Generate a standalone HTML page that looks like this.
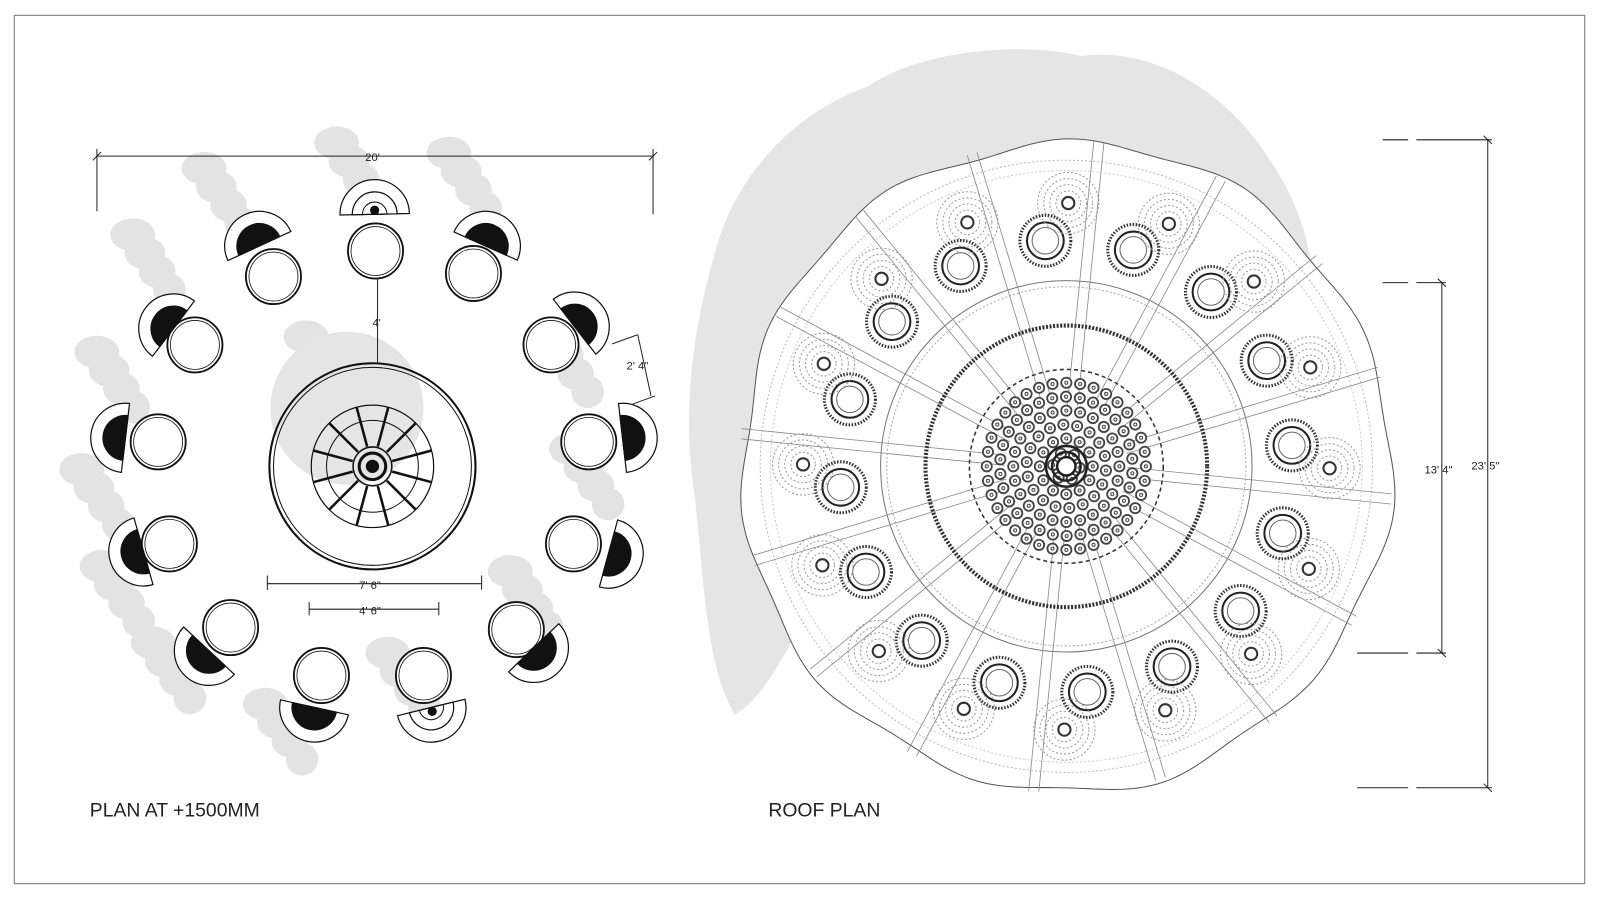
<!DOCTYPE html>
<html><head><meta charset="utf-8"><style>
html,body{margin:0;padding:0;background:#fff;width:1600px;height:899px;overflow:hidden}
svg{display:block}
text{font-family:"Liberation Sans",sans-serif}
</style></head><body>
<svg id="s" width="1600" height="899" viewBox="0 0 1568 881" xmlns="http://www.w3.org/2000/svg">
<rect x="14" y="15" width="1539" height="851" fill="#fff" stroke="#777" stroke-width="1"/>
<g id="bg"></g>
<path d="M700,250 C720,170 780,110 850,85 C900,50 1000,40 1060,55 C1130,45 1200,90 1240,150 C1275,200 1290,250 1285,300 L1230,300 C1180,240 1120,200 1045,195 C930,200 850,280 820,380 C800,460 800,540 780,620 C760,660 740,690 720,700 C690,650 690,560 680,480 C668,400 680,320 700,250 Z" fill="#e5e5e5"/>
<g id="left" fill="none" stroke="#111"></g>
<g id="right" fill="none"></g>
<g stroke="#222" stroke-width="1" fill="none">
<line x1="95" y1="153" x2="640" y2="153"/><line x1="95" y1="146" x2="95" y2="207"/><line x1="640" y1="146" x2="640" y2="210"/>
<line x1="91" y1="157" x2="99" y2="149"/><line x1="636" y1="157" x2="644" y2="149"/>
<line x1="370" y1="272" x2="370" y2="355"/>
<line x1="262" y1="572" x2="472" y2="572"/><line x1="262" y1="564" x2="262" y2="578"/><line x1="472" y1="564" x2="472" y2="578"/>
<line x1="303" y1="597" x2="430" y2="597"/><line x1="303" y1="590" x2="303" y2="603"/><line x1="430" y1="590" x2="430" y2="603"/>
<line x1="600" y1="337" x2="625" y2="328"/><line x1="625" y1="328" x2="638" y2="388"/><line x1="620" y1="396" x2="642" y2="388"/>
<line x1="1458" y1="137" x2="1458" y2="772"/><line x1="1413" y1="277" x2="1413" y2="640"/>
<line x1="1355" y1="137" x2="1380" y2="137"/><line x1="1388" y1="137" x2="1462" y2="137"/>
<line x1="1355" y1="277" x2="1380" y2="277"/><line x1="1388" y1="277" x2="1417" y2="277"/>
<line x1="1330" y1="640" x2="1380" y2="640"/><line x1="1388" y1="640" x2="1417" y2="640"/>
<line x1="1330" y1="772" x2="1380" y2="772"/><line x1="1388" y1="772" x2="1462" y2="772"/>
<line x1="1454" y1="133" x2="1462" y2="141"/><line x1="1454" y1="768" x2="1462" y2="776"/>
<line x1="1409" y1="273" x2="1417" y2="281"/><line x1="1409" y1="636" x2="1417" y2="644"/>
</g>
<g font-size="11" fill="#222">
<text x="358" y="158">20'</text><text x="365" y="320">4'</text>
<text x="352" y="577">7' 6"</text><text x="352" y="602">4' 6"</text>
<text x="614" y="362">2' 4"</text>
<text x="1396" y="464">13' 4"</text><text x="1442" y="460">23' 5"</text>
</g>
<g font-size="19" fill="#222">
<text x="88" y="800">PLAN AT +1500MM</text><text x="753" y="800">ROOF PLAN</text>
</g>
</svg>
<script>
const NS="http://www.w3.org/2000/svg";
function el(p,t,a){const e=document.createElementNS(NS,t);for(const k in a)e.setAttribute(k,a[k]);p.appendChild(e);return e;}
const bg=document.getElementById('bg'),L=document.getElementById('left'),R=document.getElementById('right');
const sh=[[200,165],[330,140],[440,150],[130,230],[95,345],[80,460],[100,555],[150,630],[260,690],[380,640],[500,560],[560,440],[540,330],[300,330]];
sh.forEach(([x,y],i)=>{for(let k=0;k<4;k++)el(bg,'ellipse',{cx:x+k*12,cy:y+k*18,rx:22-k*2,ry:16,fill:'#e3e3e3'});});
el(bg,'circle',{cx:340,cy:400,r:75,fill:'#e5e5e5'});
const cx=365,cy=457;
el(L,'circle',{cx,cy,r:101,'stroke-width':2});el(L,'circle',{cx,cy,r:97,'stroke-width':1});
el(L,'circle',{cx,cy,r:60,'stroke-width':1.2});el(L,'circle',{cx,cy,r:45,'stroke-width':1});
for(let i=0;i<12;i++){const a=i*Math.PI/6+Math.PI/12;el(L,'line',{x1:cx+20*Math.cos(a),y1:cy+20*Math.sin(a),x2:cx+60*Math.cos(a),y2:cy+60*Math.sin(a),'stroke-width':2.5});}
el(L,'circle',{cx,cy,r:19,'stroke-width':1.5});el(L,'circle',{cx,cy,r:13,'stroke-width':3});el(L,'circle',{cx,cy,r:6,fill:'#111'});
const chairs=[[368,246],[268,271],[464,268],[191,338],[540,338],[155,433],[577,433],[166,533],[562,533],[226,615],[506,617],[315,662],[415,662]];
const seats=[[367,200],[250,232],[480,232],[162,316],[571,314],[113,428],[620,428],[131,543],[606,545],[198,645],[530,642],[306,703],[425,703]];
chairs.forEach(([x,y])=>{el(L,'circle',{cx:x,cy:y,r:27,fill:'#fff','stroke-width':1.8});el(L,'circle',{cx:x,cy:y,r:24,'stroke-width':0.8});});
seats.forEach(([x,y],i)=>{const [chx,chy]=chairs[i];const a=Math.atan2(y-chy,x-chx);const ca=Math.cos(a),sa=Math.sin(a);
 const bx=x-ca*10,by=y-sa*10;const px=-sa,py=ca;
 const r=34;
 el(L,'path',{d:`M${bx+px*r},${by+py*r} A${r},${r} 0 0 0 ${bx-px*r},${by-py*r} Z`,fill:'#fff','stroke-width':1.2});
 const r2=22;el(L,'path',{d:`M${bx+px*r2},${by+py*r2} A${r2},${r2} 0 0 0 ${bx-px*r2},${by-py*r2} Z`,fill:i==0||i==12?'#fff':'#111','stroke-width':1.2});
 if(i==0||i==12){el(L,'path',{d:`M${bx+px*12},${by+py*12} A12,12 0 0 0 ${bx-px*12},${by-py*12} Z`,'stroke-width':1});el(L,'circle',{cx:bx+ca*4,cy:by+sa*4,r:4,fill:'#111'});}
});
const X=1045,Y=457;
let pts=[];for(let i=0;i<=360;i++){const a=i/360*2*Math.PI;const r=318+4*Math.sin(a*11)+2*Math.sin(a*5+1);pts.push((X+r*Math.cos(a)).toFixed(1)+','+(Y+r*Math.sin(a)).toFixed(1));}
el(R,'polygon',{points:pts.join(' '),fill:'#fff',stroke:'#555','stroke-width':1});
el(R,'circle',{cx:X,cy:Y,r:300,stroke:'#bbb','stroke-dasharray':'2 2','stroke-width':1});
el(R,'circle',{cx:X,cy:Y,r:290,stroke:'#ccc','stroke-dasharray':'2 2','stroke-width':1});
el(R,'circle',{cx:X,cy:Y,r:182,stroke:'#777','stroke-width':1});
el(R,'circle',{cx:X,cy:Y,r:176,stroke:'#aaa','stroke-dasharray':'2 2','stroke-width':1});
for(let i=0;i<16;i++){const a=i*Math.PI/8+0.1;const c=Math.cos(a),s=Math.sin(a);const pX=-s*5,pY=c*5;
 for(const o of [-1,1])el(R,'line',{x1:X+c*60+pX*o,y1:Y+s*60+pY*o,x2:X+c*320+pX*o,y2:Y+s*320+pY*o,stroke:'#888','stroke-width':0.8});}
el(R,'circle',{cx:X,cy:Y,r:138,stroke:'#333','stroke-width':4,'stroke-dasharray':'2 1.5'});
el(R,'circle',{cx:X,cy:Y,r:95,stroke:'#333','stroke-width':1.5,'stroke-dasharray':'4 3'});
[[13,6],[26,12],[39,18],[52,24],[65,30],[78,36]].forEach(([r,n])=>{for(let i=0;i<n;i++){const a=i*2*Math.PI/n+(r%2)*0.1;el(R,'circle',{cx:X+r*Math.cos(a),cy:Y+r*Math.sin(a)*1.05,r:5,stroke:'#444','stroke-width':1.8,fill:'#fff'});el(R,'circle',{cx:X+r*Math.cos(a),cy:Y+r*Math.sin(a)*1.05,r:1.5,stroke:'#444','stroke-width':1});}});
for(const r of [20,14,9]) el(R,'circle',{cx:X,cy:Y,r,stroke:'#222','stroke-width':2.5,fill:r==9?'#fff':'none'});
for(let i=0;i<16;i++){const a=i*Math.PI/8+0.3;const x=X+222*Math.cos(a),y=Y+222*Math.sin(a);
 el(R,'circle',{cx:x,cy:y,r:25,stroke:'#333','stroke-width':3,'stroke-dasharray':'1.5 1.5',fill:'#fff'});
 el(R,'circle',{cx:x,cy:y,r:18,stroke:'#222','stroke-width':2});el(R,'circle',{cx:x,cy:y,r:13,stroke:'#666','stroke-width':1});
 const x2=X+258*Math.cos(a+0.1),y2=Y+258*Math.sin(a+0.1);
 for(const rr of [30,24,18,12]) el(R,'circle',{cx:x2,cy:y2,r:rr,stroke:'#999','stroke-width':1,'stroke-dasharray':'2 2'});
 el(R,'circle',{cx:x2,cy:y2,r:6,stroke:'#333','stroke-width':2});}
</script>
</body></html>
